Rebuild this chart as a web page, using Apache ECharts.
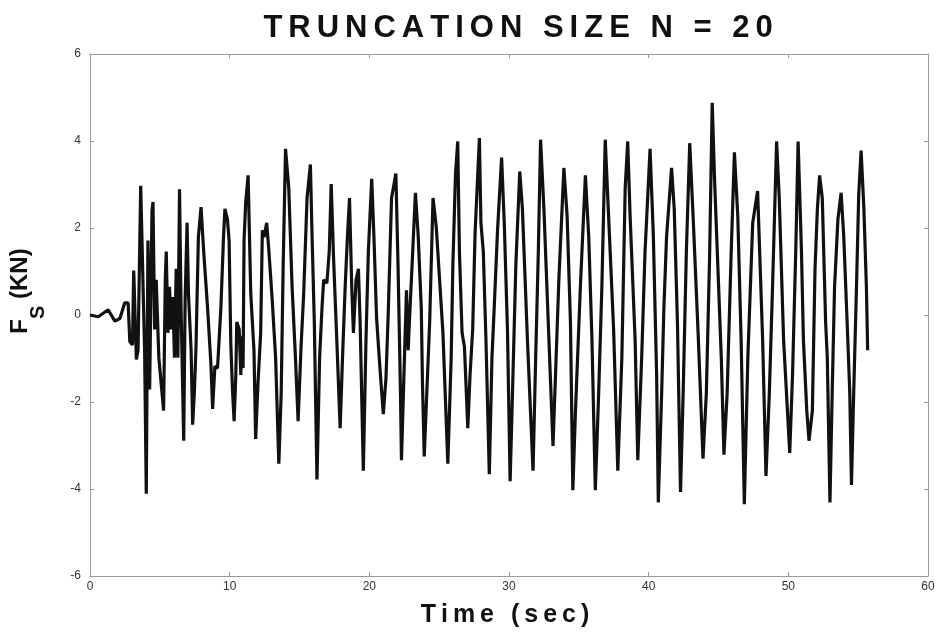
<!DOCTYPE html>
<html>
<head>
<meta charset="utf-8">
<script src="https://cdn.jsdelivr.net/npm/echarts@6/dist/echarts.min.js"></script>
<style>html,body{margin:0;padding:0;background:#fff}#c{width:939px;height:633px}</style>
</head>
<body>
<div id="c"></div>
<script>
const chartTitle = 'TRUNCATION SIZE N = 20';
const xAxisTitle = 'Time (sec)';
const xTicks = [0, 10, 20, 30, 40, 50, 60];
const yTicks = [-6, -4, -2, 0, 2, 4, 6];
const time = [
0,0.59,1.30,1.78,2.14,2.49,2.73,2.85,3.04,3.13,3.32,3.44,3.63,3.80,3.91,4.03,4.15,4.27,4.44,4.51,4.63,4.74,4.93,5.27,5.39,5.46,5.58,5.69,5.81,5.93,6.05,6.17,6.29,6.41,6.52,6.71,6.81,6.95,7.05,7.24,7.35,7.47,7.59,7.76,7.95,8.14,8.42,8.66,8.78,8.94,9.13,9.37,9.56,9.66,9.84,9.96,10.08,10.20,10.32,10.44,10.51,10.68,10.80,10.87,10.96,11.03,11.15,11.32,
11.51,11.74,11.86,12.03,12.22,12.34,12.46,12.65,12.81,13.05,13.29,13.52,13.69,13.83,14.00,14.23,14.47,14.71,14.90,15.11,15.30,15.54,15.78,15.89,16.06,16.25,16.44,16.61,16.73,16.96,17.13,17.27,17.44,17.67,17.91,18.08,18.27,18.43,18.58,18.74,18.86,19.05,19.22,19.34,19.57,19.76,19.93,20.17,20.33,20.52,20.76,21.00,21.19,21.35,21.59,21.90,22.06,22.23,22.30,22.47,22.66,22.78,22.89,23.06,23.30,23.49,23.72,23.80,23.93,
24.32,24.56,24.79,25.03,25.27,25.62,25.86,25.98,26.17,26.33,26.45,26.64,26.81,27.05,27.21,27.40,27.57,27.88,27.99,28.16,28.35,28.59,28.78,28.94,29.18,29.47,29.66,29.89,30.08,30.25,30.49,30.77,30.96,31.32,31.72,31.91,32.10,32.26,32.50,32.81,33.15,33.33,33.57,33.93,34.16,34.40,34.57,34.76,35.11,35.47,35.71,35.94,36.18,36.42,36.65,36.89,37.13,37.49,37.79,
38.08,38.32,38.50,38.67,39.03,39.22,39.50,39.74,40.10,40.33,40.57,40.69,40.93,41.09,41.28,41.64,41.83,42.06,42.28,42.47,42.70,42.94,43.18,43.54,43.89,44.13,44.36,44.55,44.72,44.96,45.20,45.39,45.62,45.91,46.14,46.38,46.62,46.85,47.10,47.45,47.80,47.92,48.16,48.40,48.64,48.87,49.16,49.35,49.66,50.10,50.30,50.53,50.70,
50.94,51.08,51.32,51.48,51.72,51.91,52.08,52.24,52.43,52.67,52.79,52.98,53.14,53.31,53.55,53.78,53.97,54.21,54.40,54.52,54.68,54.88,55.04,55.21,55.40,55.59,55.68
];
const force = [
0,-0.04,0.12,-0.14,-0.08,0.28,0.28,-0.61,-0.69,1.02,-1.02,-0.81,2.97,0.65,-0.81,-4.11,1.71,-1.71,2.40,2.60,-0.33,0.81,-0.98,-2.20,0.81,1.46,-0.41,0.65,-0.33,0.41,-0.98,1.06,-0.98,2.89,0.16,-2.89,0.33,2.12,0.49,-0.81,-2.52,-1.79,-0.73,1.79,2.48,1.46,0.16,-1.14,-2.16,-1.18,-1.22,0.16,1.79,2.44,2.20,1.71,-0.65,-1.71,-2.44,-1.38,-0.16,-0.33,-1.38,-0.49,-1.22,1.71,2.60,3.21,
0.49,-0.81,-2.85,-1.55,-0.41,1.95,1.79,2.12,1.46,0.33,-0.98,-3.42,-1.79,1.14,3.82,2.93,0.65,-0.98,-2.44,-0.73,0.49,2.69,3.46,1.95,-0.16,-3.78,-0.98,0.16,0.81,0.73,1.46,3.01,1.30,-0.57,-2.60,-0.98,0.65,1.79,2.69,0.65,-0.41,0.81,1.06,-0.16,-3.58,-0.57,1.46,3.13,1.79,-0.08,-1.22,-2.28,-1.46,0,2.69,3.25,1.06,-1.79,-3.34,-1.46,0.57,-0.81,0,1.14,2.81,1.87,0.16,-1.50,-3.25,
-0.16,2.69,2.03,0.81,-0.41,-3.42,-0.98,1.14,3.25,3.99,1.46,-0.41,-0.73,-2.60,-1.38,-0.33,1.87,4.07,2.12,1.46,-0.57,-3.66,-0.98,0.16,1.95,3.62,2.12,-0.33,-3.82,-1.79,1.14,3.30,2.44,-0.57,-3.58,-0.98,1.46,4.03,2.44,-0.16,-3.01,-1.38,0.81,3.38,2.28,-0.16,-4.03,-2.20,0.65,3.21,1.79,-0.57,-4.03,-1.79,0.65,4.03,2.28,-0.33,-3.58,
-0.98,2.93,3.99,2.28,-0.57,-3.34,-0.98,1.46,3.82,1.87,-1.38,-4.31,-1.79,0.16,1.79,3.38,2.44,-0.16,-4.07,-1.79,1.46,3.95,2.28,-0.41,-3.30,-1.79,1.30,4.88,3.09,1.06,-0.98,-3.21,-1.79,1.46,3.74,2.28,-0.57,-4.35,-0.98,2.12,2.85,1.71,-0.57,-3.70,-1.79,0.65,3.99,2.69,-0.57,-3.17,-1.38,1.46,3.99,
1.46,-0.57,-2.20,-2.89,-2.20,1.06,2.44,3.21,2.69,-0.16,-0.98,-4.31,-1.79,0.65,2.20,2.81,1.79,-0.16,-1.79,-3.91,-1.79,0.65,2.77,3.78,2.52,0.65,-0.81
];
const seriesData = time.map((t, i) => [t, force[i]]);

// letter-spaced rich text built from the plain strings
function spaced(str, style) {
  return str.split('').map(c => '{' + style + '|' + c + '}').join('');
}
const FONT = 'Liberation Sans, Arial, sans-serif';
const chart = echarts.init(document.getElementById('c'), null, {renderer: 'canvas'});
const axisLine = {show: true, onZero: false, lineStyle: {color: '#9a9a9a', width: 1}};
const tick = {show: true, inside: true, length: 4, lineStyle: {color: '#9a9a9a'}};
const tickFont = {color: '#333', fontSize: 12, fontFamily: FONT};
chart.setOption({
  animation: false,
  backgroundColor: '#fff',
  title: {
    text: spaced(chartTitle, 't'),
    left: 513, top: 8, textAlign: 'center',
    textStyle: {
      rich: {t: {fontSize: 31, fontWeight: 'bold', color: '#111', fontFamily: FONT, padding: [0, 3, 0, 3]}}
    }
  },
  grid: {left: 85, right: 11, top: 54, bottom: 51, containLabel: false},
  xAxis: [{
    type: 'value', min: xTicks[0], max: xTicks[xTicks.length - 1], interval: 10,
    axisLine: axisLine, axisTick: tick,
    splitLine: {show: false},
    axisLabel: Object.assign({margin: 5}, tickFont),
    name: spaced(xAxisTitle, 'x'), nameLocation: 'middle', nameGap: 27,
    nameTextStyle: {
      padding: [0, 8, 0, 0],
      rich: {x: {fontSize: 25, fontWeight: 'bold', color: '#111', fontFamily: FONT, padding: [0, 2.5, 0, 2.5]}}
    }
  }, {
    type: 'value', position: 'top', min: 0, max: 60, interval: 10,
    axisLine: axisLine, axisTick: tick,
    axisLabel: {show: false}, splitLine: {show: false}
  }],
  yAxis: [{
    type: 'value', min: yTicks[0], max: yTicks[yTicks.length - 1], interval: 2,
    axisLine: axisLine, axisTick: tick,
    splitLine: {show: false},
    axisLabel: Object.assign({margin: 9}, tickFont),
    name: '{a|F}{b|S}{a| (KN)}', nameLocation: 'middle', nameGap: 42, nameRotate: 90,
    nameTextStyle: {
      padding: [0, 0, 0, 48],
      rich: {
        a: {fontSize: 24, fontWeight: 'bold', color: '#111', fontFamily: FONT, lineHeight: 40, verticalAlign: 'top'},
        b: {fontSize: 20, fontWeight: 'bold', color: '#111', fontFamily: FONT, lineHeight: 40, verticalAlign: 'bottom'}
      }
    }
  }, {
    type: 'value', position: 'right', min: -6, max: 6, interval: 2,
    axisLine: axisLine, axisTick: tick,
    axisLabel: {show: false}, splitLine: {show: false}
  }],
  series: [{
    type: 'line', data: seriesData, xAxisIndex: 0, yAxisIndex: 0,
    showSymbol: false, symbol: 'none',
    lineStyle: {color: '#111', width: 3.2},
    smooth: false
  }]
});
</script>
</body>
</html>
